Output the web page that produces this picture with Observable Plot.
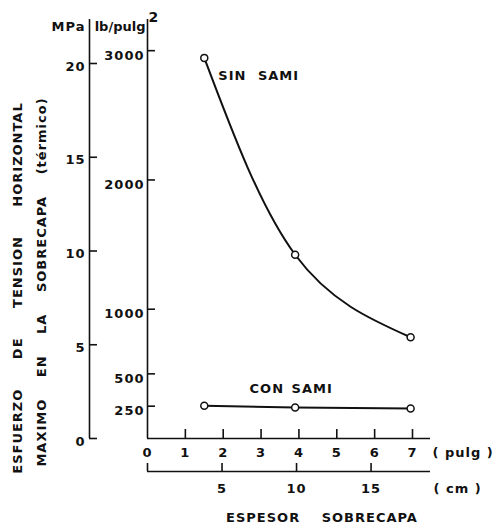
<!DOCTYPE html>
<html><head><meta charset="utf-8">
<script src="https://cdn.jsdelivr.net/npm/d3@7"></script>
<script src="https://cdn.jsdelivr.net/npm/@observablehq/plot@0.6"></script>
<style>
html,body{margin:0;padding:0;background:#fff;}
#chart svg text{letter-spacing:1px;}
</style></head><body><div id="chart"></div>
<script>
// ---- data ----
const espesorPulg = [1.5, 3.9, 6.95];
const sinSami = [20.3, 9.8, 5.4];
const conSami = [1.75, 1.65, 1.6];
const seriesNames = ["SIN SAMI", "CON SAMI"];
const mpaTicks = [0, 5, 10, 15, 20];
const psiTicks = [250, 500, 1000, 2000, 3000];
const pulgTicks = [0, 1, 2, 3, 4, 5, 6, 7];
const cmTicks = [0, 5, 10, 15];
const cmLabels = [5, 10, 15];
const yTitle = ["ESFUERZO DE TENSION HORIZONTAL", "MAXIMO EN LA SOBRECAPA (térmico)"];
const xTitle = "ESPESOR SOBRECAPA";
const unitMPa = "MPa", unitPsi = "lb/pulg", unitPsiExp = "2", unitPulg = "( pulg )", unitCm = "( cm )";

const PSI_TO_MPA = 0.00689476;
const CM_TO_IN = 1 / 2.54;

const sinTable = espesorPulg.map((x, i) => ({x, y: sinSami[i]}));
const conTable = espesorPulg.map((x, i) => ({x, y: conSami[i]}));
const ink = "#111";
const sw = 1.6;

const chart = Plot.plot({
  width: 497, height: 526,
  marginLeft: 147, marginRight: 85, marginTop: 63, marginBottom: 88,
  x: {domain: [0, 7], axis: null},
  y: {domain: [0, 20], axis: null},
  style: {fontFamily: "DejaVu Sans", fontSize: "13px", fontWeight: "bold", color: ink, background: "#fff"},
  marks: [
    // MPa axis
    Plot.ruleX([0], {dx: -58, insetTop: -44, stroke: ink, strokeWidth: sw}),
    Plot.ruleY(mpaTicks, {y: d => d, x1: () => 0, x2: () => 0, insetRight: -8, dx: -58, stroke: ink, strokeWidth: sw}),
    Plot.text(mpaTicks, {x: () => 0, y: d => d, text: d => String(d), dx: -62, dy: 3, textAnchor: "end", fill: ink}),
    // lb/pulg2 axis
    Plot.ruleX([0], {insetTop: -44, stroke: ink, strokeWidth: sw}),
    Plot.ruleY(psiTicks, {y: d => d * PSI_TO_MPA, x1: () => 0, x2: () => 0, insetRight: -8, stroke: ink, strokeWidth: sw}),
    Plot.text(psiTicks, {x: () => 0, y: d => d * PSI_TO_MPA, text: d => String(d), dx: -3, dy: 5, textAnchor: "end", fill: ink}),
    // pulg axis
    Plot.ruleY([0], {insetRight: -18, stroke: ink, strokeWidth: sw}),
    Plot.ruleX(pulgTicks.filter(d => d > 0), {x: d => d, y1: () => 0, y2: () => 0, insetBottom: 9, stroke: ink, strokeWidth: sw}),
    Plot.text(pulgTicks, {x: d => d, y: () => 0, text: d => String(d), dy: 14, fill: ink}),
    Plot.text([unitPulg], {x: () => d3.max(pulgTicks), y: () => 0, dx: 20, dy: 14, textAnchor: "start", fill: ink}),
    // cm axis
    Plot.ruleY([0], {dy: 33, insetRight: -18, stroke: ink, strokeWidth: sw}),
    Plot.ruleX(cmTicks, {x: d => d * CM_TO_IN, y1: () => 0, y2: () => 0, insetBottom: 8, dy: 33, stroke: ink, strokeWidth: sw}),
    Plot.text(cmLabels, {x: d => d * CM_TO_IN, y: () => 0, text: d => String(d), dy: 50, fill: ink}),
    Plot.text([unitCm], {x: () => d3.max(pulgTicks), y: () => 0, dx: 21, dy: 50, textAnchor: "start", fill: ink}),
    // titles
    Plot.text([xTitle], {frameAnchor: "bottom", lineAnchor: "middle", textAnchor: "middle", dx: 42, dy: 79, fill: ink}),
    Plot.text([yTitle[0]], {frameAnchor: "left", textAnchor: "middle", lineAnchor: "middle", rotate: -90, dx: -130, dy: 37, fill: ink}),
    Plot.text([yTitle[1]], {frameAnchor: "left", textAnchor: "middle", lineAnchor: "middle", rotate: -90, dx: -106, dy: 31, fill: ink}),
    Plot.text([unitMPa], {frameAnchor: "top-left", textAnchor: "end", lineAnchor: "middle", dx: -62, dy: -37, fill: ink}),
    Plot.text([unitPsi], {frameAnchor: "top-left", textAnchor: "end", lineAnchor: "middle", dx: -2, dy: -37, fill: ink}),
    Plot.text([unitPsiExp], {frameAnchor: "top-left", textAnchor: "start", lineAnchor: "middle", dx: 1, dy: -46, fontSize: 14, fill: ink}),
    // series
    Plot.line(sinTable, {x: "x", y: "y", curve: "natural", stroke: ink, strokeWidth: 2}),
    Plot.line(conTable, {x: "x", y: "y", stroke: ink, strokeWidth: 2}),
    Plot.dot(sinTable, {x: "x", y: "y", r: 3.5, fill: "#fff", stroke: ink, strokeWidth: 1.5}),
    Plot.dot(conTable, {x: "x", y: "y", r: 3.5, fill: "#fff", stroke: ink, strokeWidth: 1.5}),
    Plot.text([seriesNames[0]], {x: () => espesorPulg[0], y: () => sinSami[0], dx: 14, dy: 18, textAnchor: "start", fill: ink}),
    Plot.text([seriesNames[1]], {x: () => espesorPulg[1], y: () => conSami[1], dx: -4, dy: -19, fill: ink})
  ]
});
document.getElementById("chart").appendChild(chart);

const wordSpacing = new Map([[yTitle[0], 24], [yTitle[1], 16], [xTitle, 16], [seriesNames[0], 6], [seriesNames[1], 2]]);
const letterSpacing = new Map([[unitPsi, 0]]);
d3.select(chart).selectAll("text").each(function () {
  const t = this.textContent;
  if (wordSpacing.has(t)) this.style.wordSpacing = wordSpacing.get(t) + "px";
  if (letterSpacing.has(t)) this.style.letterSpacing = letterSpacing.get(t) + "px";
});
</script></body></html>
